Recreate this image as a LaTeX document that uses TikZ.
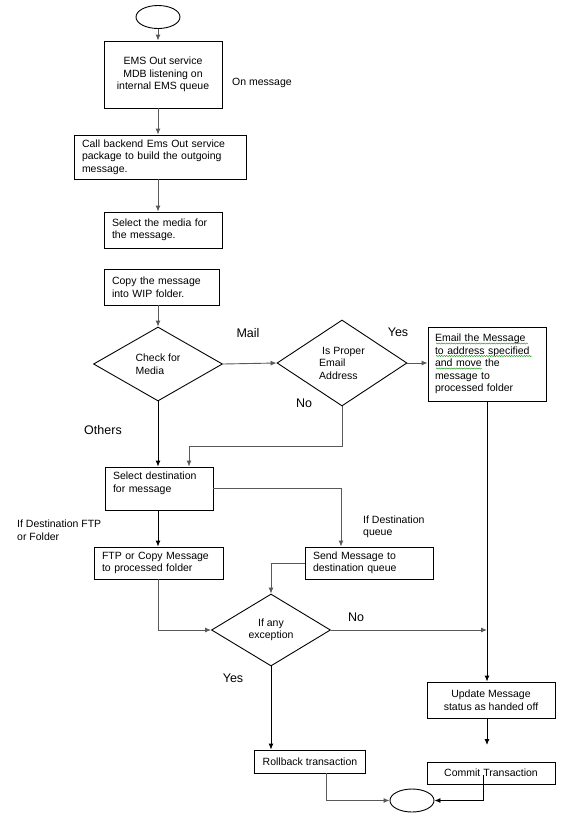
\documentclass[tikz,border=0pt]{standalone}
\usepackage{fontspec}
\setmainfont{Liberation Sans}
\usetikzlibrary{%
  arrows.meta,%
  shapes.geometric,% diamond, ellipse
  decorations.pathmorphing% snake under the mail text
}
\newcommand{\boxfont}{\fontsize{10.5}{12.5}\selectfont}
\newcommand{\branchfont}{\fontsize{12.5}{14}\selectfont}

\begin{document}
\begin{tikzpicture}[
    x=1pt, y=-1pt,
    box/.style={draw, rectangle, inner xsep=8pt, inner ysep=0pt, line width=.9pt, font=\boxfont},
    decision/.style={draw, diamond, inner sep=0pt, line width=.9pt, font=\boxfont},
    terminal/.style={draw, ellipse, minimum width=44pt, minimum height=23pt, inner sep=0pt, line width=.9pt},
    tip/.style={-{Latex[length=6pt,width=5pt]}, line width=.9pt},
    faint/.style={draw=black!65},
    branch/.style={font=\branchfont, inner sep=0pt},
    remark/.style={font=\boxfont, align=left, inner sep=0pt, anchor=west},
    squiggle/.style={draw=green!55!black, line width=.4pt, decorate,
      decoration={snake, amplitude=.6pt, segment length=2.5pt}}
  ]
  \useasboundingbox (0,0) rectangle (574,820);

  % draw boxes
  \node[terminal] at (158,17) (start) {};
  \node[box, minimum width=118pt, minimum height=67pt, align=center] at (163,74.5) (ems)
    {EMS Out service\\MDB listening on\\internal EMS queue};
  \node[box, minimum width=172pt, minimum height=44pt, text width=156pt, align=left] at (160,157) (build)
    {Call backend Ems Out service\\package to build the outgoing\\message.};
  \node[box, minimum width=118pt, minimum height=36pt, text width=102pt, align=left] at (163,230) (media)
    {Select the media for\\the message.};
  \node[box, minimum width=115pt, minimum height=36pt, text width=99pt, align=left] at (161.5,287) (copy)
    {Copy the message\\into WIP folder.};
  \node[decision, minimum width=129pt, minimum height=74pt, align=left] at (158,364) (check)
    {Check for\\Media};
  \node[decision, minimum width=130pt, minimum height=86pt, align=left] at (342,363) (proper)
    {\hspace{3pt}Is Proper\\Email\\Address};
  \node[box, minimum width=118pt, minimum height=74pt, text width=104pt, inner xsep=7pt, align=left] at (487,364) (email)
    {Email the Message\\to address specified\\and move the\\message to\\processed folder};
  \node[box, minimum width=108pt, minimum height=43pt, text width=92pt, align=left] at (159,488.5) (dest)
    {Select destination\\for message\\~};
  \node[box, minimum width=129pt, minimum height=32pt, text width=113pt, align=left] at (158.5,563) (ftp)
    {FTP or Copy Message\\to processed folder};
  \node[box, minimum width=128pt, minimum height=32pt, text width=112pt, align=left] at (369,563) (send)
    {Send Message to\\destination queue};
  \node[decision, minimum width=119pt, minimum height=72pt, align=center] at (271,630) (exc)
    {If any\\exception};
  \node[box, minimum width=128pt, minimum height=36pt, align=center] at (491,700) (update)
    {Update Message\\status as handed off};
  \node[box, minimum width=110pt, minimum height=23pt] at (310,761.5) (rollback) {Rollback transaction};
  \node[box, minimum width=128pt, minimum height=22pt] at (491,773) (commit) {Commit Transaction};
  \node[terminal] at (412,800.5) (stop) {};

  % draw labels
  \node[remark] at (232,83) (onmsg) {On message};
  \node[branch] at (248,333) (mail) {Mail};
  \node[branch] at (398,332) (yes1) {Yes};
  \node[branch] at (304,403) (no1) {No};
  \node[branch] at (103,430) (others) {Others};
  \node[remark] at (17,530) (ftpif) {If Destination FTP\\or Folder};
  \node[remark] at (363,527) (queueif) {If Destination\\queue};
  \node[branch] at (356,617) (no2) {No};
  \node[branch] at (233,678) (yes2) {Yes};

  % spell check marks
  \draw[squiggle] (436,343.5) -- (528,343.5);
  \draw[squiggle] (436,356) -- (532,356);
  \draw[squiggle] (436,368.5) -- (482,368.5);

  % draw connections
  \coordinate (join) at (email.south |- exc.east);
  \coordinate (gap) at (487,745);
  \foreach \a/\b in {start/ems, ems/build, build/media, copy/check}{
    \draw[tip, faint] (\a.south -| start) -- (\b.north -| start);}
  \foreach \a/\b in {check/dest, dest/ftp}{
    \draw[tip] (\a.south -| start) -- (\b.north -| start);}
  \draw[tip, faint] (check.east) -- (proper.west);
  \draw[tip, faint] (proper.east) -- (proper.east -| email.west);
  \draw[tip, faint] (proper.south) |- ([xshift=30pt, yshift=20pt]dest.north) -- ([xshift=30pt]dest.north);
  \draw[tip, faint] (dest.east) -| ([xshift=-28pt]send.north);
  \draw[tip, faint] (ftp.south) |- (exc.west);
  \draw[tip, faint] (send.west) -| (exc.north);
  \draw[tip, faint] (exc.east) -- (join);
  \draw[tip] (email.south) -- (email.south |- update.north);
  \draw[tip] (exc.south) -- (exc.south |- rollback.north);
  \draw[tip] (email.south |- update.south) -- (gap);
  \draw[tip] ([xshift=-8pt, yshift=-2pt]commit.center) |- (stop.east);
  \draw[tip, faint] ([xshift=16pt]rollback.south) |- (stop.west);
\end{tikzpicture}
\end{document}
